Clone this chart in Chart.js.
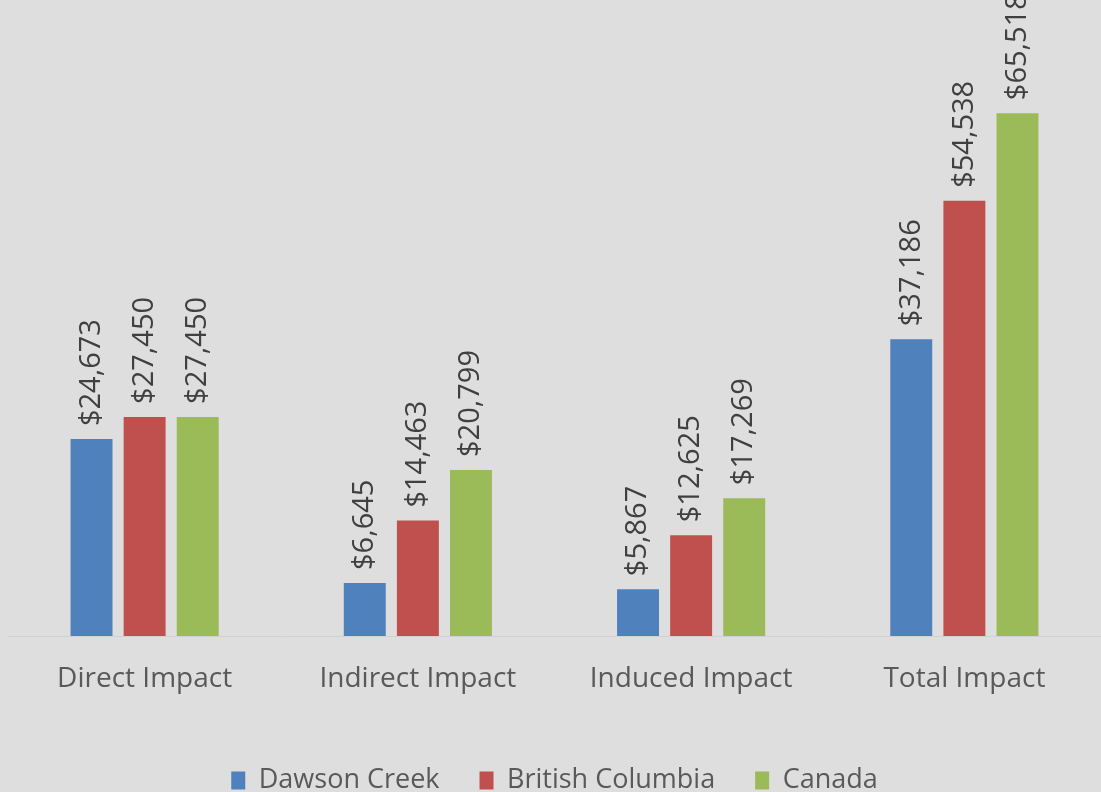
<!DOCTYPE html>
<html>
<head>
<meta charset="utf-8">
<script src="https://cdn.jsdelivr.net/npm/chart.js@4"></script>
<style>
  html, body { margin: 0; padding: 0; background: #dedede; overflow: hidden; }
  #wrap { width: 1101px; height: 804px; }
</style>
</head>
<body>
<div id="wrap"><canvas id="impactChart"></canvas></div>
<script>
const categories = ["Direct Impact", "Indirect Impact", "Induced Impact", "Total Impact"];
const dawsonCreek = [24673, 6645, 5867, 37186];
const britishColumbia = [27450, 14463, 12625, 54538];
const canada = [27450, 20799, 17269, 65518];

const FONT = "'Open Sans', sans-serif";

// draws the rotated $ labels above each bar
const valueLabels = {
  id: "valueLabels",
  afterDatasetsDraw(chart) {
    const c = chart.ctx;
    c.save();
    c.font = "29px " + FONT;
    c.fillStyle = "#404040";
    c.textAlign = "left";
    c.textBaseline = "middle";
    chart.data.datasets.forEach((ds, i) => {
      chart.getDatasetMeta(i).data.forEach((bar, j) => {
        const txt = "$" + ds.data[j].toLocaleString("en-US");
        c.save();
        c.translate(bar.x, bar.y - 13);
        c.rotate(-Math.PI / 2);
        c.fillText(txt, 0, 0);
        c.restore();
      });
    });
    c.restore();
  }
};

new Chart(document.getElementById("impactChart"), {
  type: "bar",
  data: {
    labels: categories,
    datasets: [
      { label: "Dawson Creek", data: dawsonCreek, backgroundColor: "#4f81bd" },
      { label: "British Columbia", data: britishColumbia, backgroundColor: "#c0504d" },
      { label: "Canada", data: canada, backgroundColor: "#9bbb59" }
    ]
  },
  options: {
    responsive: true,
    maintainAspectRatio: false,
    animation: false,
    datasets: { bar: { categoryPercentage: 0.583, barPercentage: 0.79 } },
    layout: { padding: { left: 8, right: 0, top: 0, bottom: 0 } },
    scales: {
      x: {
        grid: { display: false },
        border: { color: "#d2d2d2", width: 1 },
        ticks: { color: "#595959", font: { family: FONT, size: 28 }, padding: 18 },
        afterFit: s => { s.height = 91; }
      },
      y: {
        display: false,
        min: 0,
        max: 79700
      }
    },
    plugins: {
      legend: {
        position: "bottom",
        labels: {
          color: "#595959",
          font: { family: FONT, size: 27 },
          boxWidth: 14,
          boxHeight: 18,
          padding: 40
        }
      },
      tooltip: { enabled: false }
    }
  },
  plugins: [valueLabels]
});
</script>
</body>
</html>
